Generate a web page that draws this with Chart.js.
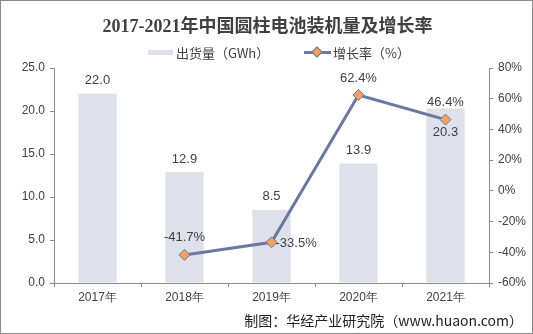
<!DOCTYPE html>
<html>
<head>
<meta charset="utf-8">
<script src="https://cdn.jsdelivr.net/npm/chart.js@4.4.1/dist/chart.umd.min.js"></script>
<style>
  html, body { margin: 0; padding: 0; background: #fff; }
  #wrap { position: relative; width: 533px; height: 334px; box-sizing: border-box; border: 1px solid #8c8c8c; overflow: hidden; }
  #chart { position: absolute; left: 0; top: 0; }
  .title { position: absolute; left: 0; width: 533px; top: 10px; text-align: center;
    font: bold 18px "Liberation Serif", "Noto Sans CJK SC", serif; color: #404040; }
  .legend { position: absolute; top: 43px; font: 13px "Noto Sans CJK SC", sans-serif; color: #404040; line-height: 18px; }
  .sw-bar { position: absolute; left: 147px; top: 49px; width: 25px; height: 5px; background: #dfe1ea; }
  .sw-line { position: absolute; left: 303px; top: 50px; width: 27px; height: 3px; background: #6c789f; }
  .sw-dot { position: absolute; left: 312px; top: 47px; width: 6px; height: 6px; background: #f4a05e;
    border: 1px solid #6c789f; transform: rotate(45deg); }
  .footer { position: absolute; right: 9px; top: 309px; font: 14px "Noto Sans CJK SC", sans-serif; color: #222; }
</style>
</head>
<body>
<div id="wrap">
  <canvas id="chart" width="533" height="334"></canvas>
  <div class="title">2017-2021年中国圆柱电池装机量及增长率</div>
  <div class="sw-bar"></div>
  <div class="legend" style="left:175px">出货量（GWh）</div>
  <div class="sw-line"></div>
  <div class="sw-dot"></div>
  <div class="legend" style="left:332px">增长率（%）</div>
  <div class="footer">制图：华经产业研究院（www.huaon.com）</div>
</div>
<script>
// categories and series
const years = ['2017年', '2018年', '2019年', '2020年', '2021年'];
const shipments = [22.0, 12.9, 8.5, 13.9, 20.3];       // GWh
const growthRate = [null, -41.7, -33.5, 62.4, 46.4];   // %

const AXIS = '#8c8c8c';
const TEXT = '#404040';
const FONT = { family: 'Liberation Sans, Arial, sans-serif', size: 12 };

// value labels for bars and line points
const valueLabels = {
  id: 'valueLabels',
  afterDatasetsDraw(chart) {
    const ctx = chart.ctx;
    const pts = chart.getDatasetMeta(0).data;
    const bars = chart.getDatasetMeta(1).data;
    ctx.save();
    ctx.font = '13px Liberation Sans, Arial, sans-serif';
    ctx.fillStyle = TEXT;
    ctx.textBaseline = 'middle';

    bars.forEach((bar, i) => {
      const txt = shipments[i].toFixed(1);
      ctx.textAlign = 'center';
      const pt = pts[i];
      // when the rate marker sits on the bar top, put the value under it
      const crowded = growthRate[i] !== null && Math.abs(pt.y - bar.y) < 25;
      ctx.fillText(txt, bar.x, crowded ? pt.y + 13 : bar.y - 13);
    });

    pts.forEach((pt, i) => {
      if (growthRate[i] === null) return;
      const txt = growthRate[i].toFixed(1) + '%';
      const next = growthRate[i + 1];
      if (next !== undefined && next - growthRate[i] > 50) {
        ctx.textAlign = 'left';
        ctx.fillText(txt, pt.x + 4, pt.y + 1);
      } else {
        ctx.textAlign = 'center';
        ctx.fillText(txt, pt.x, pt.y - 17);
      }
    });
    ctx.restore();
  }
};

new Chart(document.getElementById('chart'), {
  data: {
    labels: years,
    datasets: [
      {
        type: 'line',
        label: '增长率（%）',
        data: growthRate,
        yAxisID: 'y1',
        borderColor: '#6c789f',
        borderWidth: 3,
        pointStyle: 'rectRot',
        pointRadius: 5.5,
        pointBackgroundColor: '#f4a05e',
        pointBorderColor: '#6c789f',
        pointBorderWidth: 1,
        tension: 0,
        order: 0,
      },
      {
        type: 'bar',
        label: '出货量（GWh）',
        data: shipments,
        yAxisID: 'y',
        backgroundColor: '#dfe1ea',
        barPercentage: 0.44,
        categoryPercentage: 1,
        order: 1,
      },
    ],
  },
  options: {
    responsive: false,
    animation: false,
    layout: { padding: { top: 67, left: 0, right: 0, bottom: 0 } },
    plugins: { legend: { display: false }, tooltip: { enabled: false } },
    scales: {
      x: {
        offset: true,
        grid: { offset: true, drawOnChartArea: false, drawTicks: true, tickLength: 4, color: AXIS },
        border: { color: AXIS },
        ticks: { color: TEXT, font: FONT, padding: 3 },
        afterFit: (s) => { s.height = 52; },
      },
      y: {
        position: 'left',
        min: 0, max: 25,
        ticks: { stepSize: 5, color: TEXT, font: FONT, padding: 5, callback: (v) => v.toFixed(1) },
        grid: { drawOnChartArea: false, tickLength: 4, color: AXIS },
        border: { color: AXIS },
        afterFit: (s) => { s.width = 53; },
      },
      y1: {
        position: 'right',
        min: -60, max: 80,
        ticks: { stepSize: 20, color: TEXT, font: FONT, padding: 5, callback: (v) => v + '%' },
        grid: { drawOnChartArea: false, tickLength: 4, color: AXIS },
        border: { color: AXIS },
        afterFit: (s) => { s.width = 45; },
      },
    },
  },
  plugins: [valueLabels],
});
</script>
</body>
</html>
